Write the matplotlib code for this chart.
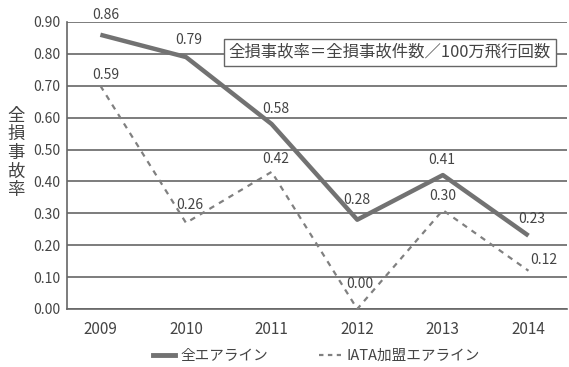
import matplotlib
matplotlib.use("Agg")
import matplotlib.pyplot as plt
from matplotlib.lines import Line2D

plt.rcParams['font.family'] = ['Noto Sans CJK JP', 'DejaVu Sans']

years = ["2009", "2010", "2011", "2012", "2013", "2014"]
all_values = [0.86, 0.79, 0.58, 0.28, 0.42, 0.23]
all_labels = ["0.86", "0.79", "0.58", "0.28", "0.41", "0.23"]
iata_values = [0.70, 0.27, 0.43, 0.00, 0.31, 0.12]
iata_labels = ["0.59", "0.26", "0.42", "0.00", "0.30", "0.12"]
yticks = [0.0, 0.1, 0.2, 0.3, 0.4, 0.5, 0.6, 0.7, 0.8, 0.9]

TXT = "#444444"
LINE = "#727272"
DASH = "#808080"
GRID = "#666666"

fig = plt.figure(figsize=(5.69, 3.67), dpi=100)
ax = fig.add_axes([67/569, 58/367, 500/569, 287/367])

x = list(range(len(years)))
ax.plot(x, all_values, color=LINE, lw=3.2, solid_capstyle='butt', zorder=3)
ax.plot(x, iata_values, color=DASH, lw=1.6, ls=(0, (2.5, 2.5)), zorder=3)

all_off = [(4, 9), (2, 7), (3, 6), (0, 9), (-1, 6), (2, 7)]
iata_off = [(4, 3), (3, 8), (3, 4), (2, 13), (0, 5), (11, 3)]
for i in x:
    ax.annotate(all_labels[i], (i, all_values[i]), xytext=all_off[i], textcoords='offset points',
                ha='center', va='bottom', fontsize=10, color=TXT, zorder=5)
    ax.annotate(iata_labels[i], (i, iata_values[i]), xytext=iata_off[i], textcoords='offset points',
                ha='center', va='bottom', fontsize=10, color=TXT, zorder=5)

ax.set_xlim(-0.39, 5.45)
ax.set_ylim(0, 0.9)
ax.set_yticks(yticks)
ax.set_yticklabels([f"{v:.2f}" for v in yticks])
ax.set_xticks(x)
ax.set_xticklabels(years)
ax.tick_params(axis='both', length=0, colors=TXT)
ax.tick_params(axis='x', pad=9, labelsize=11)
ax.tick_params(axis='y', pad=5, labelsize=10)
ax.yaxis.grid(True, color=GRID, lw=1.2)
ax.set_axisbelow(True)
for s in ['top', 'right']:
    ax.spines[s].set_visible(False)
ax.spines['left'].set_color(GRID)
ax.spines['bottom'].set_color(GRID)
ax.spines['left'].set_linewidth(1.2)
ax.spines['bottom'].set_linewidth(1.2)

fig.text(16/569, 1 - 153/367, "全\n損\n事\n故\n率", ha='center', va='center', fontsize=12.5,
         color=TXT, linespacing=1.05)

ax.text(0.646, 0.895, "全損事故率＝全損事故件数／100万飛行回数", transform=ax.transAxes,
        ha='center', va='center', fontsize=11.8, color=TXT, zorder=6,
        bbox=dict(boxstyle='square,pad=0.3', fc='white', ec=GRID, lw=1.0))

handles = [Line2D([], [], color=LINE, lw=3.5),
           Line2D([], [], color=DASH, lw=1.6, ls=(0, (2.0, 2.0)))]
fig.legend(handles, ["全エアライン", "IATA加盟エアライン"], loc='center', ncol=2,
           bbox_to_anchor=(0.556, 1 - 356/367), frameon=False, fontsize=10.5,
           labelcolor=TXT, handlelength=1.5, handletextpad=0.35, columnspacing=3.5)

fig.savefig("out.png", dpi=100, facecolor='white')
